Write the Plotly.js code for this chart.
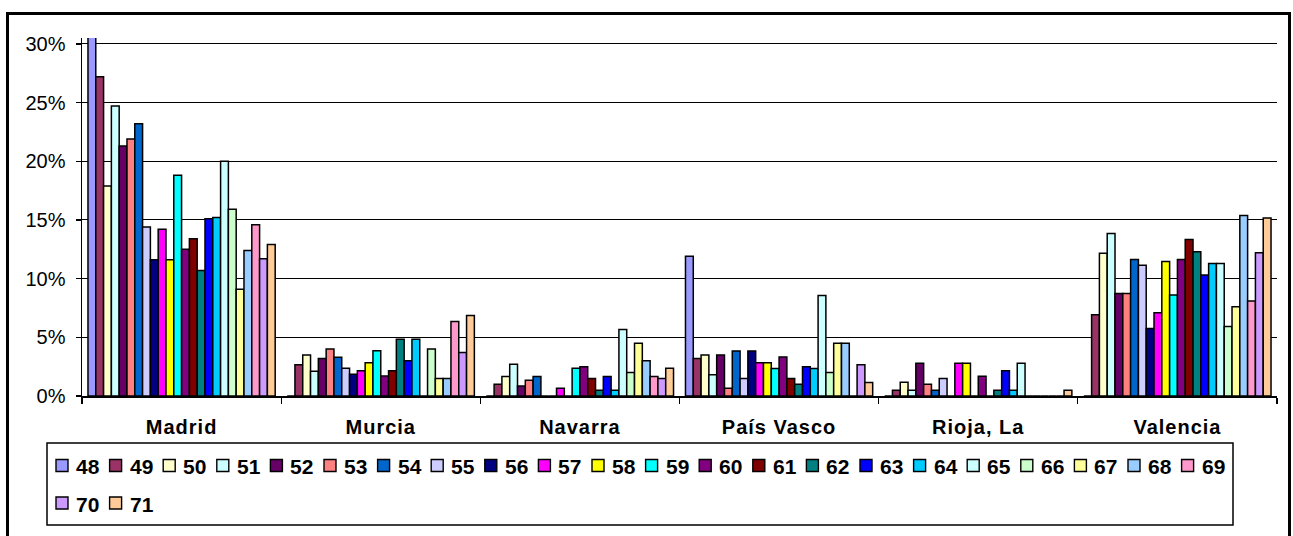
<!DOCTYPE html>
<html>
<head>
<meta charset="utf-8">
<script src="https://cdn.plot.ly/plotly-3.0.1.min.js"></script>
<style>
  html, body { margin: 0; padding: 0; background: #fff; }
  #wrap { position: relative; width: 1293px; height: 536px; overflow: hidden; }
  #chart { width: 1293px; height: 536px; }
  #frame { position: absolute; left: 6px; top: 12px; width: 1279px; height: 560px;
           border: 3px solid #000; pointer-events: none; }
  .xtick text { letter-spacing: 1px; }
</style>
</head>
<body>
<div id="wrap">
  <div id="chart"></div>
  <div id="frame"></div>
</div>
<script>
// Categories (regions)
const categories = ['Madrid', 'Murcia', 'Navarra', 'País Vasco', 'Rioja, La', 'Valencia'];
// Series names
const seriesNames = ['48','49','50','51','52','53','54','55','56','57','58','59',
                     '60','61','62','63','64','65','66','67','68','69','70','71'];
// Series colours (Excel palette)
const seriesColors = ['#9999FF','#993366','#FFFFCC','#CCFFFF','#660066','#FF8080','#0066CC','#CCCCFF',
                      '#000080','#FF00FF','#FFFF00','#00FFFF','#800080','#800000','#008080','#0000FF',
                      '#00CCFF','#CCFFFF','#CCFFCC','#FFFF99','#99CCFF','#FF99CC','#CC99FF','#FFCC99'];
// Values (percent) per region, one entry per series 48..71
const madrid    = [31, 27.2, 17.9, 24.7, 21.3, 21.9, 23.2, 14.4, 11.6, 14.2, 11.6, 18.8, 12.5, 13.4, 10.7, 15.1, 15.2, 20.0, 15.9, 9.1, 12.4, 14.6, 11.7, 12.9];
const murcia    = [0, 2.67, 3.5, 2.1, 3.2, 4.0, 3.3, 2.36, 1.85, 2.16, 2.84, 3.85, 1.7, 2.16, 4.83, 3.0, 4.83, 0, 4.0, 1.5, 1.5, 6.35, 3.7, 6.85];
const navarra   = [0, 1.0, 1.66, 2.7, 0.85, 1.35, 1.66, 0, 0, 0.67, 0, 2.36, 2.5, 1.5, 0.5, 1.66, 0.5, 5.67, 2.0, 4.5, 3.0, 1.66, 1.5, 2.36];
const paisVasco = [11.9, 3.2, 3.5, 1.8, 3.5, 0.65, 3.84, 1.5, 3.84, 2.83, 2.83, 2.34, 3.33, 1.5, 1.0, 2.5, 2.34, 8.56, 2.0, 4.5, 4.5, 0, 2.66, 1.16];
const rioja     = [0, 0.5, 1.17, 0.5, 2.8, 1.0, 0.5, 1.5, 0, 2.8, 2.8, 0, 1.68, 0, 0.5, 2.15, 0.5, 2.8, 0, 0, 0, 0, 0, 0.5];
const valencia  = [0, 6.92, 12.16, 13.84, 8.73, 8.73, 11.62, 11.14, 5.76, 7.09, 11.45, 8.6, 11.62, 13.33, 12.3, 10.3, 11.28, 11.28, 5.93, 7.6, 15.37, 8.1, 12.2, 15.17];
const regionValues = [madrid, murcia, navarra, paisVasco, rioja, valencia];
// Y axis ticks
const yTickVals = [0, 5, 10, 15, 20, 25, 30];
const yTickText = ['0%', '5%', '10%', '15%', '20%', '25%', '30%'];

const FONT = 'Arial, "Liberation Sans", sans-serif';

const traces = seriesNames.map((name, i) => ({
  type: 'bar',
  name: name,
  x: categories,
  y: regionValues.map(r => r[i]),
  marker: { color: seriesColors[i], line: { color: '#000', width: 1.5 } },
  showlegend: false
}));

// Plot area in pixels (for building the custom legend)
const W = 1293, H = 536;
const M = { l: 82, r: 16, t: 38, b: 140 };
const pw = W - M.l - M.r, ph = H - M.t - M.b;
const px = x => (x - M.l) / pw;
const py = y => (H - M.b - y) / ph;

const shapes = [];
const annotations = [];
// legend box
shapes.push({ type: 'rect', xref: 'paper', yref: 'paper',
  x0: px(47), x1: px(1233), y0: py(443), y1: py(525),
  line: { color: '#000', width: 1.5 }, fillcolor: 'rgba(0,0,0,0)' });
const perRow = 22, step = 53.6, sym = 12;
seriesNames.forEach((name, i) => {
  const row = Math.floor(i / perRow), col = i % perRow;
  const left = 56 + col * step;
  const cy = row === 0 ? 465.5 : 503;
  shapes.push({ type: 'rect', xref: 'paper', yref: 'paper',
    x0: px(left), x1: px(left + sym), y0: py(cy + sym / 2), y1: py(cy - sym / 2),
    line: { color: '#000', width: 1.4 }, fillcolor: seriesColors[i] });
  annotations.push({ xref: 'paper', yref: 'paper', x: px(left + 18), y: py(cy + 1),
    xanchor: 'left', yanchor: 'middle', showarrow: false, text: name,
    font: { family: FONT, size: 21, color: '#000', weight: 'bold' } });
});

const layout = {
  width: W, height: H,
  margin: M,
  paper_bgcolor: '#fff', plot_bgcolor: '#fff',
  barmode: 'group', bargap: 0.06, bargroupgap: 0,
  showlegend: false,
  hovermode: false,
  font: { family: FONT, color: '#000' },
  xaxis: {
    type: 'category',
    tickson: 'boundaries',
    ticks: 'outside', ticklen: 6, tickcolor: '#000', tickwidth: 1.3,
    showline: true, linecolor: '#000', linewidth: 1.5,
    showgrid: false,
    tickfont: { family: FONT, size: 20, color: '#000', weight: 'bold' },
    ticklabelstandoff: 12
  },
  yaxis: {
    range: [0, 30.5],
    tickvals: yTickVals, ticktext: yTickText,
    ticks: 'outside', ticklen: 5, tickcolor: '#000', tickwidth: 1.3,
    showline: true, linecolor: '#000', linewidth: 1.5,
    showgrid: true, gridcolor: '#000', gridwidth: 1,
    zeroline: false,
    tickfont: { family: FONT, size: 20, color: '#000' },
    ticklabelstandoff: 6
  },
  shapes: shapes,
  annotations: annotations
};

Plotly.newPlot('chart', traces, layout, { staticPlot: true, displayModeBar: false });
</script>
</body>
</html>
